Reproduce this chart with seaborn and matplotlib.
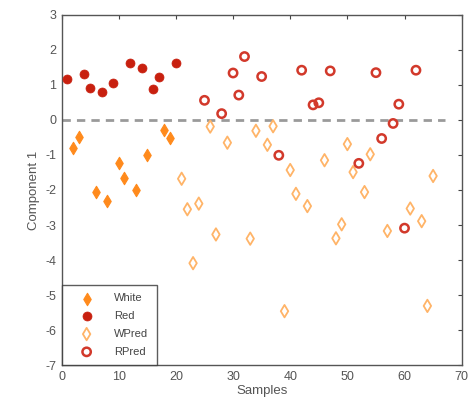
import matplotlib
matplotlib.use("Agg")
import matplotlib.pyplot as plt
import seaborn as sns
import pandas as pd

white_x = [2, 3, 6, 8, 10, 11, 13, 15, 18, 19]
white_y = [-0.79, -0.49, -2.05, -2.31, -1.24, -1.65, -2.01, -1.0, -0.29, -0.52]

red_x = [1, 4, 5, 7, 9, 12, 14, 16, 17, 20]
red_y = [1.16, 1.31, 0.91, 0.81, 1.05, 1.63, 1.49, 0.89, 1.22, 1.63]

wpred_x = [21, 22, 23, 24, 26, 27, 29, 33, 34, 36, 37, 39, 40, 41, 43, 46, 48, 49,
           50, 51, 53, 54, 57, 61, 63, 64, 65]
wpred_y = [-1.68, -2.55, -4.09, -2.39, -0.19, -3.27, -0.65, -3.39, -0.31, -0.71, -0.18,
           -5.46, -1.43, -2.11, -2.46, -1.15, -3.38, -2.98, -0.69, -1.49, -2.06, -0.98,
           -3.17, -2.53, -2.89, -5.31, -1.6]

rpred_x = [25, 28, 30, 31, 32, 35, 38, 42, 44, 45, 47, 52, 55, 56, 58, 59, 60, 62]
rpred_y = [0.56, 0.18, 1.34, 0.71, 1.81, 1.24, -1.01, 1.42, 0.43, 0.49, 1.40, -1.24,
           1.35, -0.53, -0.10, 0.45, -3.09, 1.42]

x_ticks = [0, 10, 20, 30, 40, 50, 60, 70]
y_ticks = [3, 2, 1, 0, -1, -2, -3, -4, -5, -6, -7]

sns.set_style("white")
plt.rcParams['font.family'] = ['Liberation Sans', 'DejaVu Sans']

fig = plt.figure(figsize=(4.74, 4.13), dpi=100)
ax = fig.add_axes([0.130, 0.116, 0.844, 0.848])

c_white = "#FF8A1C"
c_red = "#C8200F"
c_wpred = "#FFB468"
c_rpred = "#D2392B"

ax.plot([0, 67], [0, 0], linestyle=(0, (3, 2.2)), color="#9a9a9a", lw=2.0, zorder=1)

df_w = pd.DataFrame({"x": white_x, "y": white_y})
df_r = pd.DataFrame({"x": red_x, "y": red_y})
df_wp = pd.DataFrame({"x": wpred_x, "y": wpred_y})
df_rp = pd.DataFrame({"x": rpred_x, "y": rpred_y})

sns.scatterplot(data=df_w, x="x", y="y", ax=ax, marker="d", s=40, color=c_white,
                edgecolor=c_white, linewidth=0.8, label="White", zorder=3)
sns.scatterplot(data=df_r, x="x", y="y", ax=ax, marker="o", s=42, color=c_red,
                edgecolor=c_red, linewidth=0.5, label="Red", zorder=3)
sns.scatterplot(data=df_wp, x="x", y="y", ax=ax, marker="d", s=40, facecolor="none",
                edgecolor=c_wpred, linewidth=1.3, label="WPred", zorder=3)
sns.scatterplot(data=df_rp, x="x", y="y", ax=ax, marker="o", s=36, facecolor="none",
                edgecolor=c_rpred, linewidth=1.8, label="RPred", zorder=3)

ax.set_xlim(0, 70)
ax.set_ylim(-7, 3)
ax.set_xticks(x_ticks)
ax.set_yticks(y_ticks)
ax.set_xticklabels([str(t) for t in x_ticks])
ax.set_yticklabels([str(t) for t in y_ticks])
ax.tick_params(direction="in", length=3, width=0.8, top=True, right=True,
               labelsize=9, colors="#444444", labelcolor="#555555", pad=4)
for s in ax.spines.values():
    s.set_visible(True)
    s.set_color("#555555")
    s.set_linewidth(1.0)

ax.set_xlabel("Samples", fontsize=9.5, color="#555555", labelpad=2)
ax.set_ylabel("Component 1", fontsize=9.5, color="#555555", labelpad=4)

leg = ax.legend(loc="lower left", borderaxespad=0, fontsize=8, frameon=True,
                fancybox=False, handletextpad=1.0, borderpad=0.75, labelspacing=0.7,
                handlelength=3.0)
leg.get_frame().set_edgecolor("#333333")
leg.get_frame().set_linewidth(1.0)
for t in leg.get_texts():
    t.set_color("#444444")

fig.savefig("out.png", dpi=100)
